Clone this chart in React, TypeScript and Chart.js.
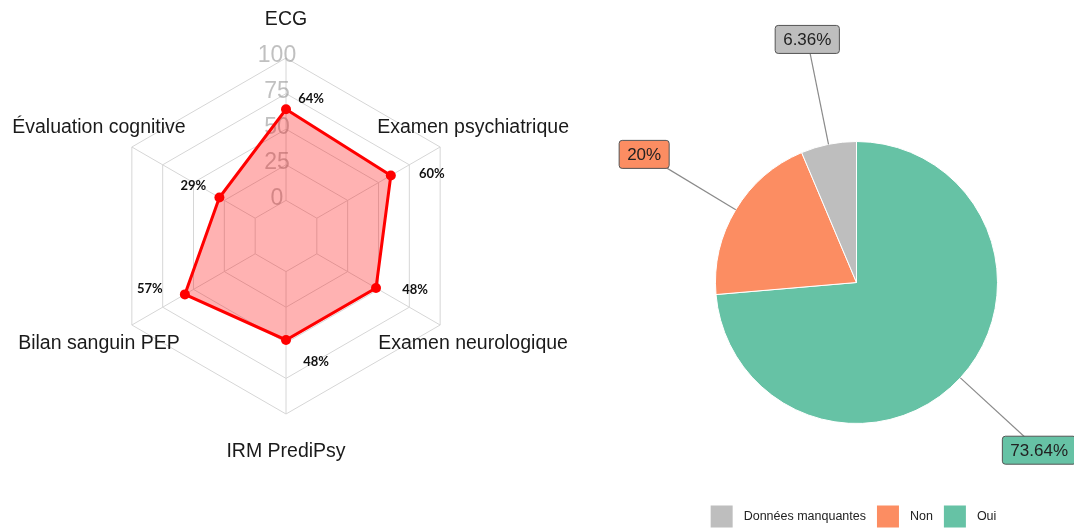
import React, { useEffect, useRef } from 'react';
import { Chart, registerables } from 'chart.js';

Chart.register(...registerables);

// ---------- data ----------
const RADAR_LABELS = [
  'ECG',
  'Examen psychiatrique',
  'Examen neurologique',
  'IRM PrediPsy',
  'Bilan sanguin PEP',
  'Évaluation cognitive',
];
const RADAR_VALUES = [64, 60, 48, 48, 57, 29];
const RADAR_TICKS = [0, 25, 50, 75, 100];

const PIE_CATEGORIES = ['Oui', 'Non', 'Données manquantes'];
const PIE_VALUES = [73.64, 20, 6.36];
const PIE_COLORS = ['#66C2A5', '#FC8D62', '#BEBEBE'];

// ---------- styles ----------
const SANS = '"Liberation Sans", Arial, Helvetica, sans-serif';
const GRID = '#d6d6d6';
// value-label nudges (px) relative to each radar point
const VALUE_NUDGE = [
  [25, -10],
  [41, -2],
  [39, 2],
  [30, 22],
  [-35, -6],
  [-26, -12],
];

const radarDecor = {
  id: 'radarDecor',
  beforeDatasetsDraw(chart: any) {
    const s = chart.scales.r;
    const ctx = chart.ctx;
    ctx.save();
    // spokes from the 0 ring to the outer ring
    ctx.strokeStyle = GRID;
    ctx.lineWidth = 1;
    for (let i = 0; i < RADAR_LABELS.length; i++) {
      const a = s.getPointPositionForValue(i, RADAR_TICKS[0]);
      const b = s.getPointPositionForValue(i, RADAR_TICKS[RADAR_TICKS.length - 1]);
      ctx.beginPath();
      ctx.moveTo(a.x, a.y);
      ctx.lineTo(b.x, b.y);
      ctx.stroke();
    }
    // tick labels
    ctx.font = `23px ${SANS}`;
    ctx.fillStyle = 'rgba(150,150,150,0.6)';
    ctx.textAlign = 'center';
    ctx.textBaseline = 'middle';
    RADAR_TICKS.forEach((t) => {
      const d = s.getDistanceFromCenterForValue(t);
      ctx.fillText(String(t), s.xCenter - 9, s.yCenter - d - 2);
    });
    ctx.restore();
  },
  afterDraw(chart: any) {
    const s = chart.scales.r;
    const ctx = chart.ctx;
    ctx.save();
    ctx.textAlign = 'center';
    ctx.textBaseline = 'middle';
    // axis labels
    ctx.font = `19.5px ${SANS}`;
    ctx.fillStyle = '#1a1a1a';
    RADAR_LABELS.forEach((lab, i) => {
      const p = s.getPointPosition(i, s.drawingArea + 38);
      ctx.fillText(lab, p.x, p.y);
    });
    // value labels
    ctx.font = `bold 13px Lato, "Open Sans", sans-serif`;
    ctx.fillStyle = '#111';
    const meta = chart.getDatasetMeta(0);
    meta.data.forEach((pt: any, i: number) => {
      const [dx, dy] = VALUE_NUDGE[i];
      ctx.fillText(`${RADAR_VALUES[i]}%`, pt.x + dx, pt.y + dy);
    });
    ctx.restore();
  },
};

const pieDecor = {
  id: 'pieDecor',
  afterDatasetsDraw(chart: any) {
    const ctx = chart.ctx;
    const meta = chart.getDatasetMeta(0);
    ctx.save();
    ctx.font = `17px ${SANS}`;
    ctx.textAlign = 'center';
    ctx.textBaseline = 'middle';
    meta.data.forEach((arc: any, i: number) => {
      const { x, y, startAngle, endAngle, outerRadius } = arc.getProps(
        ['x', 'y', 'startAngle', 'endAngle', 'outerRadius'],
        true
      );
      const mid = (startAngle + endAngle) / 2;
      const ex = x + Math.cos(mid) * outerRadius;
      const ey = y + Math.sin(mid) * outerRadius;
      const lx = x + Math.cos(mid) * (outerRadius + 107);
      const ly = y + Math.sin(mid) * (outerRadius + 107);
      ctx.strokeStyle = '#8a8a8a';
      ctx.lineWidth = 1.2;
      ctx.beginPath();
      ctx.moveTo(ex, ey);
      ctx.lineTo(lx, ly);
      ctx.stroke();
      const text = `${PIE_VALUES[i]}%`;
      const tw = ctx.measureText(text).width;
      const w = tw + 16;
      const h = 28;
      ctx.beginPath();
      (ctx as any).roundRect(lx - w / 2, ly - h / 2, w, h, 3);
      ctx.fillStyle = PIE_COLORS[i];
      ctx.fill();
      ctx.strokeStyle = '#555';
      ctx.lineWidth = 1;
      ctx.stroke();
      ctx.fillStyle = '#222';
      ctx.fillText(text, lx, ly + 1);
    });

    // legend (reverse order of the data)
    const order = [2, 1, 0];
    const box = 22;
    const gap = 11;
    ctx.font = `12.5px ${SANS}`;
    const widths = order.map((k) => box + gap + ctx.measureText(PIE_CATEGORIES[k]).width);
    const total = widths.reduce((a, b) => a + b, 0) + gap * (order.length - 1);
    const cx = meta.data[0].x - 3;
    const cy = 516.5;
    let x = cx - total / 2;
    ctx.textAlign = 'left';
    order.forEach((k, j) => {
      ctx.fillStyle = PIE_COLORS[k];
      ctx.fillRect(x, cy - box / 2, box, box);
      ctx.fillStyle = '#222';
      ctx.fillText(PIE_CATEGORIES[k], x + box + gap, cy);
      x += widths[j] + gap;
    });
    ctx.restore();
  },
};

export default function App() {
  const radarRef = useRef<HTMLCanvasElement>(null);
  const pieRef = useRef<HTMLCanvasElement>(null);

  useEffect(() => {
    const radar = new Chart(radarRef.current as HTMLCanvasElement, {
      type: 'radar',
      data: {
        labels: RADAR_LABELS,
        datasets: [
          {
            data: RADAR_VALUES,
            borderColor: '#ff0000',
            backgroundColor: 'rgba(255,0,0,0.3)',
            borderWidth: 3,
            pointRadius: 5,
            pointBackgroundColor: '#ff0000',
            pointBorderColor: '#ff0000',
            pointBorderWidth: 0,
            fill: 'start',
          },
        ],
      },
      options: {
        responsive: false,
        animation: false,
        layout: { padding: { left: 108, right: 110, top: 58, bottom: 116 } },
        plugins: { legend: { display: false }, tooltip: { enabled: false } },
        scales: {
          r: {
            min: -25,
            max: 100,
            ticks: { display: false, stepSize: 25 },
            grid: { color: GRID, lineWidth: 1 },
            angleLines: { display: false },
            pointLabels: { display: false },
          },
        },
      },
      plugins: [radarDecor],
    } as any);

    const pie = new Chart(pieRef.current as HTMLCanvasElement, {
      type: 'pie',
      data: {
        labels: PIE_CATEGORIES,
        datasets: [
          {
            data: PIE_VALUES,
            backgroundColor: PIE_COLORS,
            borderColor: '#ffffff',
            borderWidth: 1,
            radius: 141,
          },
        ],
      },
      options: {
        responsive: false,
        animation: false,
        layout: { padding: { left: 65, right: 0, top: 35, bottom: 0 } },
        plugins: { legend: { display: false }, tooltip: { enabled: false } },
      },
      plugins: [pieDecor],
    } as any);

    return () => {
      radar.destroy();
      pie.destroy();
    };
  }, []);

  return (
    <div
      style={{
        position: 'absolute',
        left: 0,
        top: 0,
        width: 1074,
        height: 530,
        overflow: 'hidden',
        background: '#ffffff',
      }}
    >
      <canvas
        ref={radarRef}
        width={574}
        height={530}
        style={{ position: 'absolute', left: 0, top: 0, display: 'block' }}
      />
      <canvas
        ref={pieRef}
        width={500}
        height={530}
        style={{ position: 'absolute', left: 574, top: 0, display: 'block' }}
      />
    </div>
  );
}
